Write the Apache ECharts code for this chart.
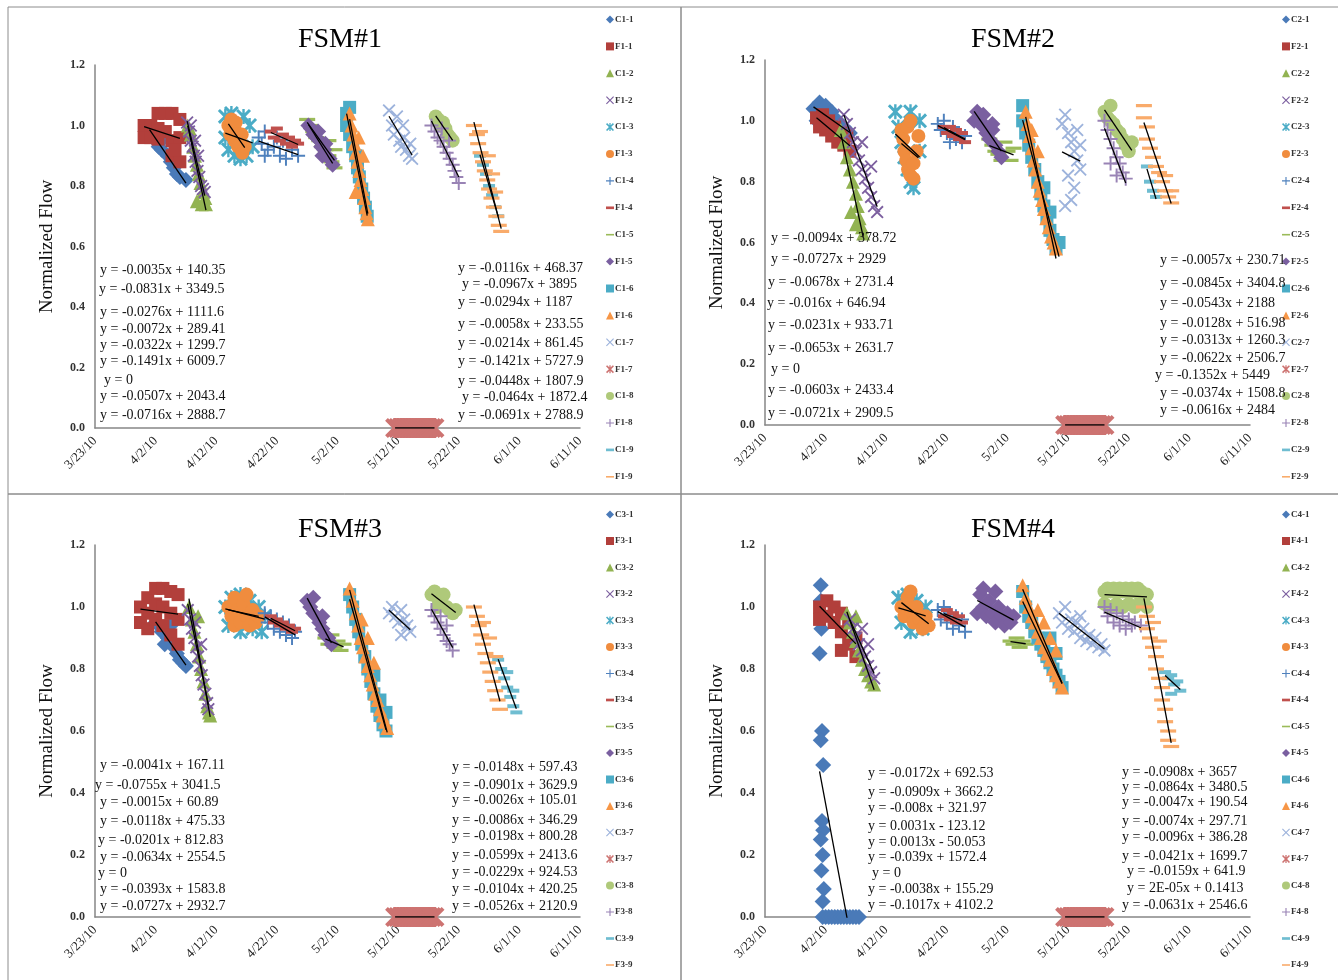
<!DOCTYPE html>
<html>
<head>
<meta charset="utf-8">
<script src="https://cdn.jsdelivr.net/npm/echarts@6/dist/echarts.min.js"></script>
<style>
html,body{margin:0;padding:0;background:#fff;}
#chart{width:1338px;height:980px;}
</style>
</head>
<body>
<div id="chart"></div>
<script>
// ---- tick labels (x axis = days since 3/23/10) ----
const dateTicks = ['3/23/10','4/2/10','4/12/10','4/22/10','5/2/10','5/12/10','5/22/10','6/1/10','6/11/10'];
const panelTitles = ['FSM#1','FSM#2','FSM#3','FSM#4'];

// ---- series names per panel ----
const fsm1Names = ['C1-1','F1-1','C1-2','F1-2','C1-3','F1-3','C1-4','F1-4','C1-5','F1-5','C1-6','F1-6','C1-7','F1-7','C1-8','F1-8','C1-9','F1-9'];
const fsm2Names = ['C2-1','F2-1','C2-2','F2-2','C2-3','F2-3','C2-4','F2-4','C2-5','F2-5','C2-6','F2-6','C2-7','F2-7','C2-8','F2-8','C2-9','F2-9'];
const fsm3Names = ['C3-1','F3-1','C3-2','F3-2','C3-3','F3-3','C3-4','F3-4','C3-5','F3-5','C3-6','F3-6','C3-7','F3-7','C3-8','F3-8','C3-9','F3-9'];
const fsm4Names = ['C4-1','F4-1','C4-2','F4-2','C4-3','F4-3','C4-4','F4-4','C4-5','F4-5','C4-6','F4-6','C4-7','F4-7','C4-8','F4-8','C4-9','F4-9'];

// ---- normalized flow readings [day, value] per series ----
const fsm1Points = [
  [[9,0.97],[9.5,0.99],[10,0.95],[10.5,0.93],[11,0.92],[11.5,0.96],[12,0.9],[12.5,0.88],[13,0.86],[13.5,0.84],[14,0.83],[15,0.82]],
  [[8.1,1.0],[8.1,0.96],[9.2,1.0],[9.2,0.96],[10.4,1.04],[10.4,0.99],[10.4,0.955],[11.6,1.04],[11.6,0.98],[12.7,1.04],[12.7,0.95],[12.7,0.9],[14,1.02],[14,0.96],[14,0.88],[13.2,0.92]],
  [[15.3,1.0],[15.6,0.99],[15.8,0.97],[16.2,0.93],[16.5,0.9],[16.8,0.87],[17.1,0.84],[17.4,0.81],[17.8,0.78],[18.2,0.76],[18.3,0.74],[17.6,0.74],[16.8,0.75]],
  [[15.2,1.01],[15.5,0.98],[15.8,0.95],[15.8,1.0],[16.1,0.93],[16.3,0.9],[16.5,0.95],[16.6,0.88],[16.9,0.85],[17,0.9],[17.2,0.83],[17.5,0.8],[17.8,0.79],[18.1,0.78]],
  [[21.5,1.03],[22.5,1.04],[24.5,1.03],[25.5,1.0],[21.5,0.96],[26,0.93],[22,0.92],[25,0.9],[23,0.9],[24,0.89]],
  [[22,1.0],[22.3,0.97],[22.5,1.02],[23,0.99],[23,0.95],[23.2,1.01],[23.5,0.97],[23.6,0.93],[24,0.94],[24.2,0.97],[24.3,0.91],[24.7,0.93]],
  [[27,0.96],[27.5,0.94],[28,0.98],[28,0.9],[28.5,0.92],[29.5,0.93],[30,0.96],[30.5,0.9],[31,0.95],[31.5,0.89],[32.5,0.92],[33.5,0.9]],
  [[29,0.98],[29.5,0.96],[30,0.99],[30.5,0.95],[31,0.97],[31.5,0.94],[32,0.96],[32.5,0.93],[33,0.95],[33.5,0.94]],
  [[35,1.02],[35.5,1.0],[36,0.98],[36.5,0.96],[37,0.95],[37.5,0.93],[38,0.92],[38.5,0.9],[38.5,0.95],[39,0.88],[39.5,0.86],[39.5,0.92]],
  [[35.2,1.0],[35.6,0.99],[36,0.97],[36.5,0.96],[36.8,0.98],[37,0.95],[37.3,0.93],[37.5,0.9],[37.8,0.92],[38,0.94],[38.2,0.9],[38.7,0.89],[39.2,0.87]],
  [[41.5,1.04],[41.5,1.0],[42,1.06],[42,0.97],[42.5,0.93],[43,0.9],[43.3,0.86],[43.6,0.83],[44,0.79],[44.3,0.76],[44.6,0.73],[44.9,0.7]],
  [[42,1.04],[42.3,1.0],[42.6,0.97],[42.8,0.94],[43,0.91],[43,0.78],[43.3,0.88],[43.5,0.96],[43.6,0.85],[43.8,0.82],[44.1,0.79],[44.2,0.9],[44.4,0.76],[44.6,0.73],[44.8,0.71],[45,0.69]],
  [[48.5,1.05],[49,1.0],[49.3,0.97],[49.8,1.03],[50.2,0.95],[50.5,0.93],[50.8,1.0],[51,0.96],[51.3,0.92],[51.8,0.9],[52,0.94],[52.3,0.89]],
  [[49.5,0],[50,0],[50.5,0],[51,0],[51.5,0],[52,0],[52.5,0],[53,0],[53.5,0],[54,0],[54.5,0],[55,0],[55.5,0],[56,0]],
  [[56.2,1.03],[56.6,1.02],[57,1.0],[57.4,1.01],[57.8,0.99],[58.2,0.97],[58.6,0.96],[59,0.95]],
  [[55.5,1.0],[56,0.98],[56.5,0.96],[57,0.95],[57.2,0.99],[57.5,0.93],[58,0.91],[58.4,0.95],[58.5,0.89],[59,0.87],[59.3,0.85],[59.6,0.83],[60,0.81]],
  [[63.5,0.9],[64,0.87],[64.5,0.84],[65,0.8],[65.5,0.77],[66,0.73],[66.5,0.7]],
  [[62.5,1.0],[63,0.97],[63.2,0.94],[63.5,0.98],[63.6,0.91],[64,0.88],[64.3,0.85],[64.7,0.82],[64.8,0.9],[65,0.79],[65.4,0.76],[65.5,0.84],[65.8,0.73],[66,0.78],[66.2,0.7],[66.6,0.67],[67,0.65]]
];

const fsm2Points = [
  [[8,1.04],[8.5,1.0],[9,1.06],[10,1.05],[10.5,0.99],[11,1.03],[12,1.0],[12.5,0.95],[13,0.98],[14,0.96]],
  [[8.5,1.01],[9,0.98],[9.5,1.02],[10,0.97],[10.5,1.0],[11,0.95],[11.5,0.98],[12,0.93],[12.5,0.96],[13,0.92],[13.5,0.95],[14,0.9]],
  [[12.5,0.97],[13,0.93],[13.5,0.88],[14,0.84],[14.2,0.7],[14.5,0.8],[15,0.76],[15,0.66],[15.3,0.72],[15.6,0.68],[16,0.65],[16.2,0.63]],
  [[13,1.02],[13.5,0.99],[14,0.96],[14.5,0.93],[15,0.9],[15.5,0.87],[16,0.84],[16,0.93],[16.5,0.81],[17,0.78],[17.5,0.75],[17.5,0.85],[18,0.72],[18.5,0.7]],
  [[21.5,1.03],[22,0.98],[22.5,0.93],[23,0.88],[23.5,0.84],[24,0.8],[24,1.03],[24.5,0.78],[25.5,0.9],[25.5,1.0]],
  [[22.5,0.97],[22.8,0.94],[23,0.9],[23.3,0.87],[23.5,0.98],[23.6,0.84],[24,0.82],[24,1.0],[24.5,0.81],[24.5,0.86],[25,0.9],[25.3,0.95]],
  [[28.5,0.99],[29,0.97],[29.5,1.0],[30,0.96],[30.5,0.93],[31,0.98],[31.5,0.94],[32,0.96],[32.5,0.93],[33,0.95]],
  [[29.5,0.98],[30,0.96],[30.5,0.98],[31,0.95],[31.5,0.97],[32,0.94],[32.5,0.96],[33,0.93]],
  [[37,0.94],[37.5,0.92],[38,0.9],[38.5,0.89],[39,0.87],[39.5,0.93],[40,0.9],[40.5,0.87],[41,0.91]],
  [[34.5,1.0],[35,1.03],[35.5,1.0],[36,0.98],[36,1.02],[36.5,0.96],[37,0.94],[37.5,0.97],[37.5,0.99],[38,0.92],[38.5,0.9],[39,0.88]],
  [[42.5,1.05],[42.5,1.0],[43,0.96],[43.5,0.92],[44,0.88],[44.5,0.84],[45,0.8],[45.5,0.76],[46,0.72],[46,0.78],[46.5,0.68],[47,0.64],[47,0.7],[47.5,0.61],[48,0.58],[48.5,0.6]],
  [[43,1.03],[43.3,0.99],[43.6,0.95],[44,0.91],[44,0.97],[44.3,0.87],[44.6,0.84],[45,0.8],[45,0.9],[45.3,0.77],[45.7,0.74],[46,0.71],[46.4,0.68],[46.8,0.65],[47.2,0.62],[47.6,0.6],[48,0.58]],
  [[49,0.99],[49.5,1.02],[49.5,0.72],[50,0.96],[50,0.82],[50.5,0.93],[50.5,0.74],[51,0.9],[51,0.78],[51.5,0.87],[51.5,0.97],[52,0.84],[52,0.92]],
  [[49.5,0],[50,0],[50.5,0],[51,0],[51.5,0],[52,0],[52.5,0],[53,0],[53.5,0],[54,0],[54.5,0],[55,0],[55.5,0],[56,0]],
  [[56,1.03],[56.5,1.01],[57,1.0],[57,1.05],[57.5,0.99],[58,0.97],[58.5,0.96],[59,0.94],[59.5,0.92],[60,0.9],[60.5,0.93]],
  [[56,1.0],[56.5,0.97],[57,0.94],[57,0.86],[57.5,0.91],[58,0.88],[58,0.82],[58.5,0.86],[59,0.83],[59.5,0.81]],
  [[63,0.85],[63.5,0.8],[64,0.77],[64.5,0.75]],
  [[62.5,1.05],[62.5,1.01],[63,0.98],[63,0.94],[63.5,0.91],[64,0.88],[64.5,0.85],[65,0.83],[65.5,0.8],[66,0.77],[66,0.82],[66.5,0.75],[67,0.73],[67,0.77]]
];

const fsm3Points = [
  [[10,0.95],[11,0.92],[11.5,0.88],[12,0.9],[12.5,0.94],[13,0.87],[13.5,0.85],[14,0.83],[14.5,0.82],[15,0.81]],
  [[7.5,1.0],[7.5,0.95],[8.7,1.03],[8.7,0.98],[8.7,0.93],[10,1.06],[10,1.01],[10,0.96],[11.2,1.06],[11.2,1.0],[11.2,0.94],[12.5,1.05],[12.5,0.98],[12.5,0.91],[13.7,1.04],[13.7,0.96],[13.7,0.88]],
  [[15.5,1.0],[16,0.96],[16.4,0.92],[16.8,0.88],[17,0.97],[17.2,0.84],[17.5,0.8],[17.9,0.76],[18.2,0.72],[18.5,0.68],[18.8,0.66],[19,0.65]],
  [[15.3,0.99],[15.7,0.96],[16,0.93],[16.4,0.9],[16.5,0.95],[16.7,0.87],[17,0.84],[17.3,0.81],[17.5,0.88],[17.6,0.78],[17.9,0.75],[18.2,0.72],[18.5,0.69],[18.7,0.67]],
  [[21.5,1.0],[22,0.94],[22.5,1.03],[24,1.04],[24,0.92],[25.5,1.02],[26,0.93],[27,1.0],[27.5,0.92],[28,0.97]],
  [[22,1.0],[22.5,0.97],[23,1.03],[23,0.94],[23.5,0.99],[24,0.95],[24.5,1.01],[25,0.97],[25,1.04],[25.5,0.94],[26,0.99],[26.5,0.95],[27,0.97]],
  [[28,0.98],[28.5,0.95],[29,0.97],[29.5,0.93],[30,0.96],[30.5,0.92],[31,0.95],[31.5,0.91],[32,0.94],[32.5,0.9],[33,0.92]],
  [[29,0.97],[29.5,0.95],[30,0.96],[30.5,0.94],[31,0.95],[31.5,0.93],[32,0.94],[32.5,0.92],[33,0.93]],
  [[38,0.9],[38.5,0.88],[39,0.91],[39.5,0.87],[40,0.89],[40.5,0.86],[41,0.88]],
  [[35,1.02],[35.5,1.0],[36,0.98],[36,1.03],[36.5,0.97],[37,0.95],[37.5,0.93],[37.5,0.97],[38,0.91],[38.5,0.9],[39,0.88]],
  [[42,1.04],[42.5,1.0],[43,0.96],[43.5,0.92],[44,0.88],[44.5,0.84],[45,0.8],[45.5,0.76],[46,0.72],[46,0.78],[46.5,0.68],[47,0.65],[47,0.7],[47.5,0.62],[48,0.6],[48,0.66]],
  [[42,1.06],[42.5,1.02],[43,0.98],[43.4,0.94],[43.8,0.9],[44,0.96],[44.2,0.87],[44.6,0.84],[45,0.81],[45,0.9],[45.4,0.78],[45.8,0.75],[46,0.82],[46.2,0.72],[46.6,0.7],[47,0.67],[47.4,0.65],[47.8,0.63],[48.2,0.61]],
  [[48.5,0.98],[49,1.0],[49.5,0.97],[50,0.95],[50.5,0.99],[50.5,0.91],[51,0.96],[51.5,0.94],[52,0.92]],
  [[49.5,0],[50,0],[50.5,0],[51,0],[51.5,0],[52,0],[52.5,0],[53,0],[53.5,0],[54,0],[54.5,0],[55,0],[55.5,0],[56,0]],
  [[55.5,1.04],[56,1.05],[56.5,1.03],[56.5,1.0],[57,1.02],[57.5,1.04],[58,1.0],[58.5,0.99],[59,0.98],[59.5,0.99]],
  [[55.5,0.99],[56,0.97],[56.5,0.95],[57,0.93],[57,0.97],[57.5,0.91],[58,0.89],[58,0.94],[58.5,0.88],[59,0.86]],
  [[66.5,0.83],[67,0.8],[67.5,0.77],[68,0.74],[68,0.79],[68.5,0.71],[69,0.68],[69,0.73],[69.5,0.66]],
  [[62.5,1.0],[63,0.97],[63.3,0.94],[63.7,0.91],[64,0.88],[64,0.95],[64.4,0.85],[64.8,0.82],[65,0.9],[65.2,0.79],[65.6,0.76],[66,0.73],[66,0.84],[66.4,0.7],[66.8,0.67]]
];

const fsm4Points = [
  [[9.2,1.07],[9.2,1.02],[9.4,0.97],[9.3,0.93],[9,0.85],[9.4,0.6],[9.2,0.57],[9.6,0.49],[9.4,0.31],[9.6,0.28],[9.2,0.25],[9.5,0.2],[9.3,0.15],[9.7,0.09],[9.5,0.05],
   [9.5,0],[10,0],[10.5,0],[11,0],[11.5,0],[12,0],[12.5,0],[13,0],[13.5,0],[14,0],[14.5,0],[15,0],[15.5,0]],
  [[9,1.0],[9,0.96],[10.2,1.02],[10.2,0.97],[11.4,1.0],[11.4,0.95],[12.6,0.98],[12.6,0.92],[12.6,0.86],[13.8,0.95],[13.8,0.88],[15,0.9],[15,0.84]],
  [[13.5,0.98],[14,0.95],[14.5,0.92],[15,0.89],[15,0.97],[15.5,0.86],[16,0.83],[16.5,0.8],[17,0.78],[17.5,0.76],[18,0.75]],
  [[14,0.96],[14.5,0.93],[15,0.9],[15.5,0.88],[16,0.86],[16,0.93],[16.5,0.84],[17,0.81],[17,0.88],[17.5,0.79],[18,0.77]],
  [[22,1.03],[22.5,0.95],[23.5,1.04],[24,0.92],[25,1.02],[26,0.93],[26.5,1.0]],
  [[22.5,1.0],[23,0.97],[23.5,1.03],[24,0.99],[24,1.05],[24.5,0.95],[25,1.0],[25.5,0.96],[26,0.93],[26.5,0.97],[27,0.94]],
  [[28.5,0.99],[29,0.96],[29.5,1.0],[30,0.95],[30.5,0.98],[31,0.93],[31.5,0.97],[32,0.94],[32.5,0.96],[33,0.92]],
  [[29.5,0.97],[30,0.99],[30.5,0.96],[31,0.98],[31.5,0.95],[32,0.97],[32.5,0.95]],
  [[40.5,0.89],[41,0.88],[41.5,0.9],[42,0.87],[42.5,0.89],[43,0.88]],
  [[35,0.98],[35.5,1.04],[36,1.0],[36,1.06],[36.5,0.97],[37,1.02],[37.5,0.98],[38,0.95],[38,1.05],[38.5,1.0],[39,0.97],[39.5,0.94],[40,0.98],[40.5,0.95],[41,0.97]],
  [[42.5,1.05],[43,1.0],[43.5,0.97],[44,0.95],[44.5,0.92],[45,0.9],[45.5,0.88],[46,0.86],[46.5,0.84],[47,0.82],[47,0.9],[47.5,0.8],[48,0.78],[48,0.85],[48.5,0.76],[49,0.74]],
  [[42.5,1.07],[43,1.03],[43.5,1.0],[44,0.97],[44.5,0.95],[45,0.92],[45,0.99],[45.5,0.9],[46,0.87],[46,0.95],[46.5,0.85],[47,0.83],[47,0.9],[47.5,0.8],[48,0.78],[48,0.86],[48.5,0.76],[49,0.74]],
  [[48.5,0.98],[49,0.95],[49.5,1.0],[50,0.93],[50.5,0.96],[51,0.92],[51.5,0.95],[52,0.9],[52,0.97],[52.5,0.93],[53,0.89],[53.5,0.91],[54,0.88],[54.5,0.9],[55,0.87],[55.5,0.88],[56,0.86]],
  [[49.5,0],[50,0],[50.5,0],[51,0],[51.5,0],[52,0],[52.5,0],[53,0],[53.5,0],[54,0],[54.5,0],[55,0],[55.5,0],[56,0]],
  [[56,1.05],[56.5,1.06],[57,1.05],[57.5,1.06],[58,1.05],[58.5,1.06],[59,1.05],[59.5,1.06],[60,1.05],[60.5,1.06],[61,1.05],[61.5,1.06],[62,1.05],[56,1.01],[57,1.0],[58,1.01],[59,1.0],[60,1.01],[61,1.0],[62,1.02],[63,1.04],[63,1.0]],
  [[56,1.0],[56.5,0.97],[57,0.99],[57.5,0.95],[58,0.98],[58.5,0.94],[59,0.97],[59.5,0.93],[60,0.96],[60.5,0.94],[61,0.95],[62,0.94]],
  [[66,0.79],[66.5,0.77],[67,0.78],[67,0.72],[67.5,0.75],[68,0.76],[68.5,0.73]],
  [[62.5,1.0],[63,0.97],[63,0.93],[63.5,0.9],[64,0.87],[64,0.95],[64.5,0.84],[64.5,0.8],[65,0.77],[65,0.89],[65.5,0.74],[65.5,0.7],[66,0.67],[66,0.63],[66.5,0.6],[66.5,0.57],[67,0.55]]
];

// ---- trendline equation labels (left and right columns) ----
const fsm1EqLeft = ['y = -0.0035x + 140.35','y = -0.0831x + 3349.5','y = -0.0276x + 1111.6','y = -0.0072x + 289.41','y = -0.0322x + 1299.7','y = -0.1491x + 6009.7','y = 0','y = -0.0507x + 2043.4','y = -0.0716x + 2888.7'];
const fsm1EqRight = ['y = -0.0116x + 468.37','y = -0.0967x + 3895','y = -0.0294x + 1187','y = -0.0058x + 233.55','y = -0.0214x + 861.45','y = -0.1421x + 5727.9','y = -0.0448x + 1807.9','y = -0.0464x + 1872.4','y = -0.0691x + 2788.9'];
const fsm2EqLeft = ['y = -0.0094x + 378.72','y = -0.0727x + 2929','y = -0.0678x + 2731.4','y = -0.016x + 646.94','y = -0.0231x + 933.71','y = -0.0653x + 2631.7','y = 0','y = -0.0603x + 2433.4','y = -0.0721x + 2909.5'];
const fsm2EqRight = ['y = -0.0057x + 230.71','y = -0.0845x + 3404.8','y = -0.0543x + 2188','y = -0.0128x + 516.98','y = -0.0313x + 1260.3','y = -0.0622x + 2506.7','y = -0.1352x + 5449','y = -0.0374x + 1508.8','y = -0.0616x + 2484'];
const fsm3EqLeft = ['y = -0.0041x + 167.11','y = -0.0755x + 3041.5','y = -0.0015x + 60.89','y = -0.0118x + 475.33','y = -0.0201x + 812.83','y = -0.0634x + 2554.5','y = 0','y = -0.0393x + 1583.8','y = -0.0727x + 2932.7'];
const fsm3EqRight = ['y = -0.0148x + 597.43','y = -0.0901x + 3629.9','y = -0.0026x + 105.01','y = -0.0086x + 346.29','y = -0.0198x + 800.28','y = -0.0599x + 2413.6','y = -0.0229x + 924.53','y = -0.0104x + 420.25','y = -0.0526x + 2120.9'];
const fsm4EqLeft = ['y = -0.0172x + 692.53','y = -0.0909x + 3662.2','y = -0.008x + 321.97','y = 0.0031x - 123.12','y = 0.0013x - 50.053','y = -0.039x + 1572.4','y = 0','y = -0.0038x + 155.29','y = -0.1017x + 4102.2'];
const fsm4EqRight = ['y = -0.0908x + 3657','y = -0.0864x + 3480.5','y = -0.0047x + 190.54','y = -0.0074x + 297.71','y = -0.0096x + 386.28','y = -0.0421x + 1699.7','y = -0.0159x + 641.9','y = 2E-05x + 0.1413','y = -0.0631x + 2546.6'];

// ---- styling: marker shapes / colours (Office 2007 palette cycle) ----
const P_X = 'path://M0,1 L1,0 L5,4 L9,0 L10,1 L6,5 L10,9 L9,10 L5,6 L1,10 L0,9 L4,5 Z';
const P_STAR = 'path://M0,1.4 L1.4,0 L5,3.6 L8.6,0 L10,1.4 L6.4,5 L10,8.6 L8.6,10 L5,6.4 L1.4,10 L0,8.6 L3.6,5 Z M4.2,0 L5.8,0 L5.8,10 L4.2,10 Z';
const P_PLUS = 'path://M4.3,0 L5.7,0 L5.7,4.3 L10,4.3 L10,5.7 L5.7,5.7 L5.7,10 L4.3,10 L4.3,5.7 L0,5.7 L0,4.3 L4.3,4.3 Z';
const P_DASH = 'path://M0,0 L6,0 L6,2 L0,2 Z';
const P_LDASH = 'path://M0,0 L10,0 L10,2 L0,2 Z';
const shapes = ['diamond','rect','triangle',P_X,P_STAR,'circle',P_PLUS,P_DASH,P_LDASH,'diamond','rect','triangle',P_X,P_STAR,'circle',P_PLUS,P_DASH,P_LDASH];
const shapeSizes = [16,13,14,13,15,14,14,12,16,16,13,14,13,20,14,14,12,16];
const colors = ['#4A7AB8','#B23F3B','#92B352','#7C5F9F','#4BACC6','#F08C3E','#4F81BD','#C0504D','#9BBB59','#7A5FA0','#4BACC6','#F79646','#9DB3DC','#CD7371','#AFC97A','#9983B5','#6FBDD1','#F9AB6B'];

// ---- layout ----
const grids = [
  {left:95, top:65, width:485, height:363},
  {left:765, top:60, width:485, height:365},
  {left:95, top:545, width:485, height:372},
  {left:765, top:545, width:485, height:372}
];
const legendPos = [{left:606, top:15, gap:17.9},{left:1282, top:15, gap:17.9},{left:606, top:510, gap:17.5},{left:1282, top:510, gap:17.5}];
const titlePos = [[340,40],[1013,40],[340,530],[1013,530]];
const frames = [[8,7,673,487],[681,7,660,487],[8,494,673,490],[681,494,660,490]];
const eqLayout = [
  {lx:[100,99,100,100,100,100,104,100,100], ly:[270,289,312,329,345,361,380,396,415],
   rx:[458,462,458,458,458,458,458,462,458], ry:[268,284,302,324,343,361,381,397,415]},
  {lx:[771,771,768,767,768,768,771,768,768], ly:[238,259,282,303,325,348,369,390,413],
   rx:[1160,1160,1160,1160,1160,1160,1155,1160,1160], ry:[260,283,303,323,340,358,375,393,410]},
  {lx:[100,95,100,100,98,100,98,100,100], ly:[765,785,802,821,840,857,873,889,906],
   rx:[452,452,452,452,452,452,452,452,452], ry:[767,785,800,820,836,855,872,889,906]},
  {lx:[868,868,868,868,868,868,872,868,868], ly:[773,792,808,826,842,857,873,889,905],
   rx:[1122,1122,1122,1122,1122,1122,1127,1127,1122], ry:[772,787,802,821,837,856,871,888,905]}
];

const allNames = [fsm1Names, fsm2Names, fsm3Names, fsm4Names];
const allPoints = [fsm1Points, fsm2Points, fsm3Points, fsm4Points];
const allEq = [[fsm1EqLeft, fsm1EqRight],[fsm2EqLeft, fsm2EqRight],[fsm3EqLeft, fsm3EqRight],[fsm4EqLeft, fsm4EqRight]];

const SERIF = '"Liberation Serif","Times New Roman",serif';

// least-squares linear trend over the series' own x range
function trend(pts) {
  let n = pts.length, sx = 0, sy = 0, sxx = 0, sxy = 0, lo = Infinity, hi = -Infinity;
  pts.forEach(p => { sx += p[0]; sy += p[1]; sxx += p[0]*p[0]; sxy += p[0]*p[1]; lo = Math.min(lo, p[0]); hi = Math.max(hi, p[0]); });
  const den = n*sxx - sx*sx;
  const b = den === 0 ? 0 : (n*sxy - sx*sy)/den;
  const a = (sy - b*sx)/n;
  return [[lo, a + b*lo], [hi, a + b*hi]];
}

const xAxes = [], yAxes = [], series = [], legends = [], graphics = [];
grids.forEach((g, i) => {
  xAxes.push({
    gridIndex: i, type: 'value', min: 0, max: 80, interval: 10,
    axisLine: {lineStyle: {color: '#868686', width: 1.5}},
    axisTick: {show: false}, splitLine: {show: false},
    axisLabel: {rotate: 45, margin: 11, fontFamily: SERIF, fontSize: 13, color: '#222',
      formatter: v => dateTicks[Math.round(v/10)] || ''}
  });
  yAxes.push({
    gridIndex: i, type: 'value', min: 0, max: 1.2, interval: 0.2,
    name: 'Normalized Flow', nameLocation: 'middle', nameGap: 38, nameRotate: 90,
    nameTextStyle: {fontFamily: SERIF, fontSize: 19, color: '#111'},
    axisLine: {show: true, lineStyle: {color: '#868686', width: 1.5}},
    axisTick: {show: false}, splitLine: {show: false},
    axisLabel: {margin: 10, fontFamily: SERIF, fontSize: 12, fontWeight: 'bold', color: '#333',
      formatter: v => v.toFixed(1)}
  });
  const names = allNames[i], pts = allPoints[i];
  names.forEach((nm, k) => {
    series.push({
      name: nm, type: 'scatter', xAxisIndex: i, yAxisIndex: i,
      symbol: shapes[k], symbolSize: shapeSizes[k], symbolKeepAspect: true,
      itemStyle: {color: colors[k], opacity: 1}, clip: false, z: 2,
      data: pts[k]
    });
  });
  names.forEach((nm, k) => {
    series.push({
      name: nm + ' trend', type: 'line', xAxisIndex: i, yAxisIndex: i,
      symbol: 'none', silent: true, z: 4,
      lineStyle: {color: '#000', width: 1.3},
      data: trend(pts[k])
    });
  });
  legends.push({
    orient: 'vertical', left: legendPos[i].left, top: legendPos[i].top,
    itemWidth: 8, itemHeight: 8, itemGap: legendPos[i].gap, padding: 0, height: 470,
    data: names.slice(), selectedMode: false,
    textStyle: {fontFamily: SERIF, fontSize: 9, fontWeight: 'bold', color: '#333', padding: [0,0,0,-4]}
  });
  graphics.push({type: 'rect', silent: true, shape: {x: frames[i][0], y: frames[i][1], width: frames[i][2], height: frames[i][3]},
    style: {fill: 'none', stroke: '#8c8c8c', lineWidth: 1}});
  graphics.push({type: 'text', x: titlePos[i][0], y: titlePos[i][1], silent: true,
    style: {text: panelTitles[i], font: '28px ' + SERIF, fill: '#000', textAlign: 'center', textVerticalAlign: 'middle'}});
  const L = eqLayout[i];
  allEq[i][0].forEach((t, k) => graphics.push({type: 'text', x: L.lx[k], y: L.ly[k], silent: true, z: 10,
    style: {text: t, font: '14px ' + SERIF, fill: '#111', textVerticalAlign: 'middle'}}));
  allEq[i][1].forEach((t, k) => graphics.push({type: 'text', x: L.rx[k], y: L.ry[k], silent: true, z: 10,
    style: {text: t, font: '14px ' + SERIF, fill: '#111', textVerticalAlign: 'middle'}}));
});

const chart = echarts.init(document.getElementById('chart'), null, {renderer: 'canvas'});
chart.setOption({
  animation: false,
  backgroundColor: '#fff',
  grid: grids,
  xAxis: xAxes,
  yAxis: yAxes,
  legend: legends,
  series: series,
  graphic: graphics
});
</script>
</body>
</html>
